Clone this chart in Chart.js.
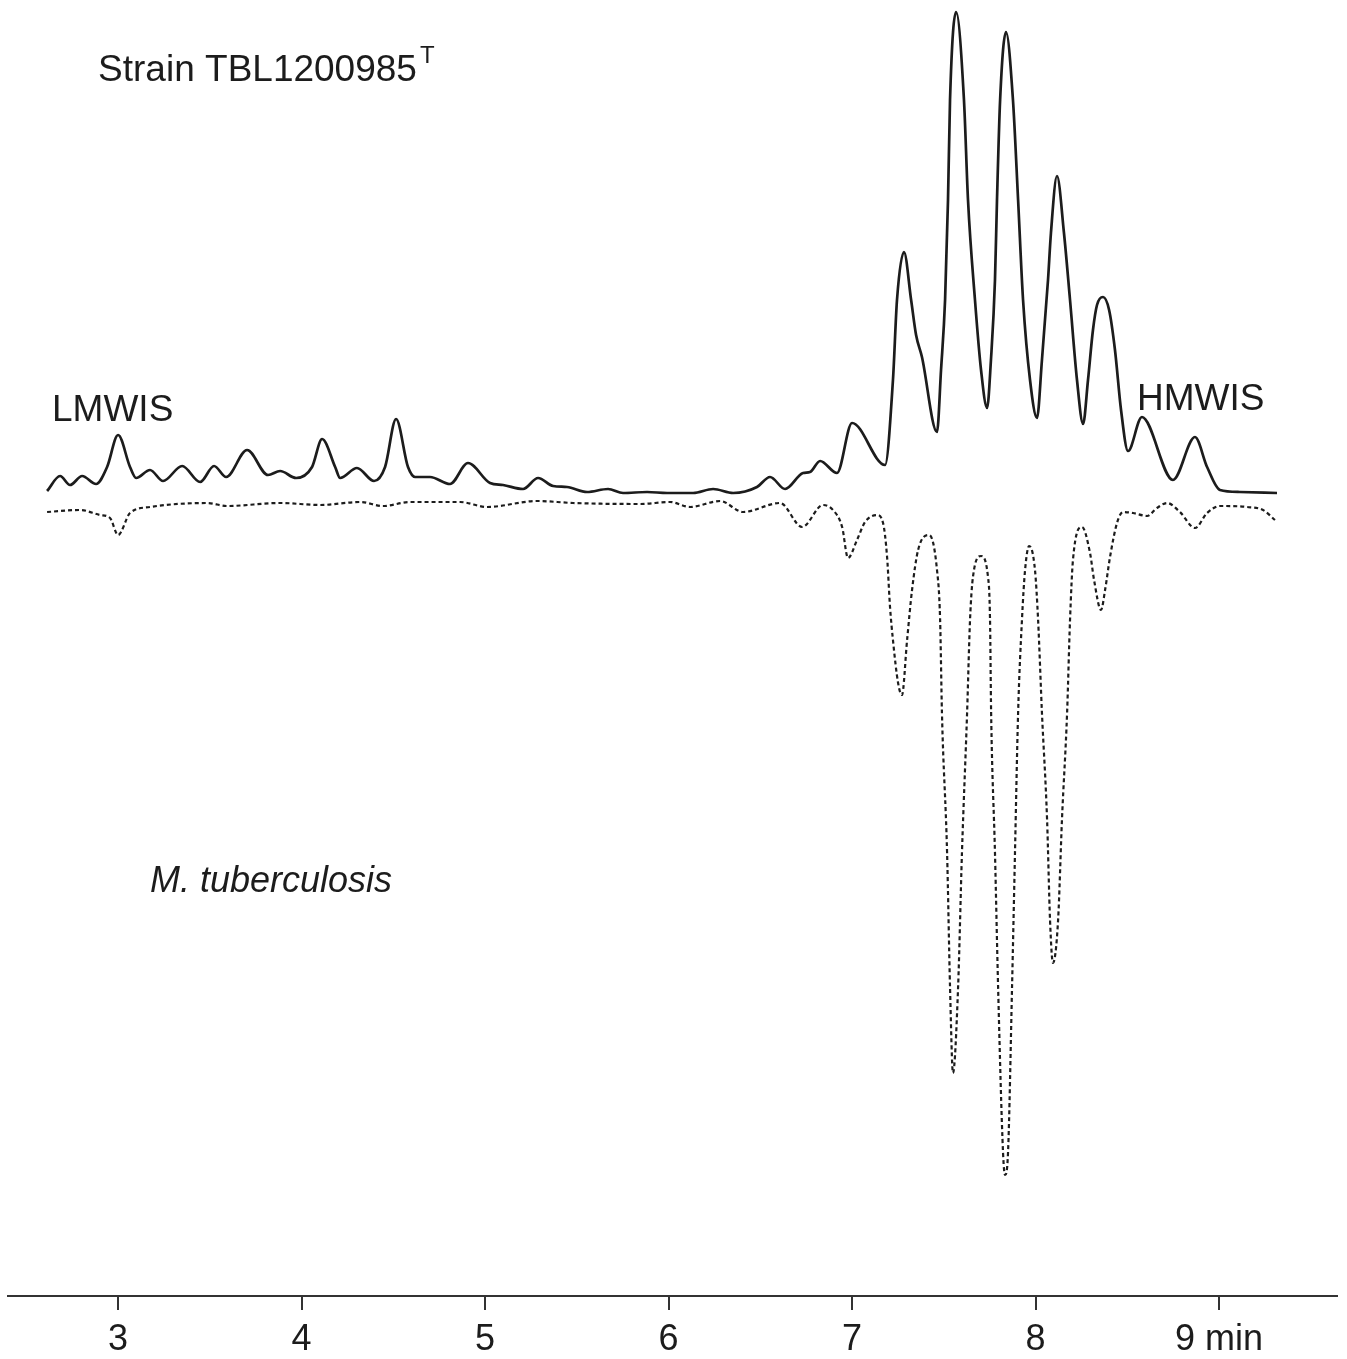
<!DOCTYPE html>
<html>
<head>
<meta charset="utf-8">
<script src="https://cdn.jsdelivr.net/npm/chart.js@4/dist/chart.umd.min.js"></script>
<style>
  html, body { margin: 0; padding: 0; background: #fff; }
</style>
</head>
<body>
<canvas id="chart" width="1347" height="1359"></canvas>
<script>
// ======= data (time in min, signal in arbitrary units) =======

// Strain TBL1200985T (upper, solid trace)
const strainTime = [
    2.613, 2.684, 2.738, 2.804, 2.880, 2.940, 3.000, 3.065, 3.098, 3.174,
    3.245, 3.349, 3.447, 3.523, 3.589, 3.703, 3.817, 3.883, 3.970, 4.057,
    4.112, 4.183, 4.210, 4.302, 4.395, 4.455, 4.515, 4.580, 4.619, 4.700,
    4.809, 4.907, 5.027, 5.098, 5.207, 5.289, 5.371, 5.447, 5.556, 5.670,
    5.752, 5.883, 5.992, 6.134, 6.243, 6.352, 6.482, 6.553, 6.635, 6.733,
    6.771, 6.826, 6.918, 7.000, 7.180, 7.223, 7.245, 7.283, 7.322, 7.349,
    7.381, 7.463, 7.485, 7.507, 7.523, 7.534, 7.567, 7.610, 7.632, 7.670,
    7.703, 7.736, 7.757, 7.779, 7.790, 7.807, 7.839, 7.877, 7.905, 7.932,
    7.970, 8.008, 8.035, 8.068, 8.084, 8.117, 8.155, 8.188, 8.226, 8.259,
    8.286, 8.313, 8.335, 8.368, 8.401, 8.433, 8.466, 8.504, 8.580, 8.749,
    8.869, 8.935, 9.005, 9.114, 9.316
];
const strainSignal = [
    80.5, 82.0, 81.1, 82.0, 81.2, 82.9, 86.1, 82.9, 81.8, 82.6,
    81.5, 83.0, 81.4, 83.0, 81.9, 84.6, 82.1, 82.5, 81.8, 82.9,
    85.7, 82.9, 81.8, 82.8, 81.5, 82.9, 87.7, 82.9, 81.9, 81.9,
    81.2, 83.3, 81.3, 81.1, 80.7, 81.8, 81.0, 80.9, 80.4, 80.7,
    80.3, 80.4, 80.3, 80.3, 80.7, 80.3, 80.9, 81.9, 80.7, 82.3,
    82.4, 83.5, 82.3, 87.3, 83.1, 91.6, 99.6, 104.4, 99.6, 96.1,
    93.9, 86.4, 92.6, 99.6, 109.6, 119.6, 128.4, 119.6, 109.6, 99.6,
    92.6, 88.8, 93.6, 101.6, 109.6, 119.6, 126.4, 119.6, 109.6, 99.6,
    91.6, 87.8, 93.6, 101.6, 106.3, 112.0, 106.3, 99.6, 91.6, 87.2,
    91.6, 96.6, 99.1, 99.9, 98.6, 94.6, 88.6, 84.5, 87.9, 81.6,
    85.9, 82.9, 80.6, 80.4, 80.3
];

// M. tuberculosis (lower, dotted trace, plotted inverted)
const tbTime = [
    2.613, 2.793, 2.902, 2.956, 3.000, 3.065, 3.174, 3.485, 3.594, 3.883,
    4.101, 4.319, 4.444, 4.591, 4.864, 5.011, 5.283, 5.480, 5.845, 6.008,
    6.117, 6.281, 6.406, 6.608, 6.728, 6.842, 6.896, 6.946, 6.978, 7.027,
    7.071, 7.136, 7.169, 7.191, 7.207, 7.223, 7.251, 7.272, 7.300, 7.327,
    7.360, 7.420, 7.463, 7.480, 7.490, 7.518, 7.534, 7.550, 7.578, 7.599,
    7.627, 7.643, 7.659, 7.703, 7.741, 7.752, 7.758, 7.779, 7.796, 7.823,
    7.834, 7.850, 7.872, 7.888, 7.905, 7.926, 7.943, 7.965, 7.997, 8.014,
    8.035, 8.063, 8.079, 8.095, 8.123, 8.144, 8.172, 8.188, 8.204, 8.253,
    8.297, 8.319, 8.357, 8.379, 8.406, 8.444, 8.477, 8.531, 8.608, 8.662,
    8.717, 8.787, 8.869, 8.935, 9.005, 9.153, 9.240, 9.305
];
const tbSignal = [
    78.4, 78.6, 78.1, 77.8, 76.1, 78.3, 78.9, 79.3, 79.0, 79.3,
    79.1, 79.4, 79.0, 79.4, 79.4, 78.9, 79.5, 79.3, 79.2, 79.4,
    78.9, 79.5, 78.4, 79.3, 76.9, 79.1, 78.6, 76.9, 73.8, 75.6,
    77.4, 78.1, 77.3, 73.9, 68.9, 65.6, 61.3, 60.1, 65.6, 70.6,
    74.6, 76.1, 72.6, 67.6, 58.3, 44.3, 30.9, 22.3, 30.9, 44.3,
    58.3, 67.6, 71.9, 74.0, 71.9, 67.6, 58.3, 44.3, 30.9, 14.3,
    12.1, 14.3, 30.9, 44.3, 58.3, 67.6, 72.6, 75.0, 72.6, 67.6,
    58.3, 47.6, 37.6, 33.3, 37.6, 47.6, 58.3, 67.6, 73.6, 76.9,
    74.3, 71.6, 68.6, 70.6, 73.9, 77.3, 78.4, 78.3, 78.0, 78.8,
    79.3, 78.4, 76.8, 78.3, 79.0, 78.9, 78.6, 77.6
];

const tickMinutes = [3, 4, 5, 6, 7, 8, 9];

const ink = '#1c1c1c';
const fontFamily = '"Liberation Sans", Arial, Helvetica, sans-serif';

function toPoints(xs, ys) {
    return xs.map((t, i) => ({ x: t, y: ys[i] }));
}

// texts drawn on the chart area (positions in data units)
const textPlugin = {
    id: 'chromLabels',
    afterDatasetsDraw(chart) {
        const { ctx, scales: { x, y } } = chart;
        ctx.save();
        ctx.fillStyle = ink;
        ctx.textBaseline = 'alphabetic';
        ctx.textAlign = 'left';
        ctx.font = '37px ' + fontFamily;

        // strain name with superscript T
        const sx = x.getPixelForValue(2.891), sy = y.getPixelForValue(121.5);
        const strain = 'Strain TBL1200985';
        ctx.fillText(strain, sx, sy);
        const w = ctx.measureText(strain).width;
        ctx.font = '24px ' + fontFamily;
        ctx.fillText('T', sx + w + 3, sy - 18);

        ctx.font = '37px ' + fontFamily;
        ctx.fillText('LMWIS', x.getPixelForValue(2.64), y.getPixelForValue(87.5));
        ctx.fillText('HMWIS', x.getPixelForValue(8.553), y.getPixelForValue(88.6));

        ctx.font = 'italic 36px ' + fontFamily;
        ctx.fillText('M. tuberculosis', x.getPixelForValue(3.174), y.getPixelForValue(40.4));
        ctx.restore();
    }
};

new Chart(document.getElementById('chart'), {
    type: 'line',
    data: {
        datasets: [
            {
                label: 'Strain TBL1200985T',
                data: toPoints(strainTime, strainSignal),
                borderColor: ink,
                borderWidth: 2.7,
                pointRadius: 0,
                cubicInterpolationMode: 'monotone',
                fill: false
            },
            {
                label: 'M. tuberculosis',
                data: toPoints(tbTime, tbSignal),
                borderColor: ink,
                borderWidth: 2.2,
                borderDash: [4, 3],
                pointRadius: 0,
                cubicInterpolationMode: 'monotone',
                fill: false
            }
        ]
    },
    options: {
        responsive: false,
        animation: false,
        layout: { padding: { left: 8, right: 10, top: 0, bottom: 0 } },
        plugins: {
            legend: { display: false },
            tooltip: { enabled: false }
        },
        scales: {
            x: {
                type: 'linear',
                position: 'bottom',
                min: 2.4,
                max: 9.643,
                afterBuildTicks: s => { s.ticks = tickMinutes.map(v => ({ value: v })); },
                afterFit: s => { s.height = 63; },
                border: { display: true, color: '#333', width: 2 },
                grid: {
                    drawOnChartArea: false,
                    drawTicks: true,
                    tickLength: 14,
                    color: '#333',
                    lineWidth: 2
                },
                ticks: {
                    color: ink,
                    padding: 8,
                    maxRotation: 0,
                    font: { family: fontFamily, size: 36 },
                    callback: v => (v === 9 ? '9 min' : String(v))
                }
            },
            y: {
                display: false,
                min: 0,
                max: 129.6
            }
        }
    },
    plugins: [textPlugin]
});
</script>
</body>
</html>
